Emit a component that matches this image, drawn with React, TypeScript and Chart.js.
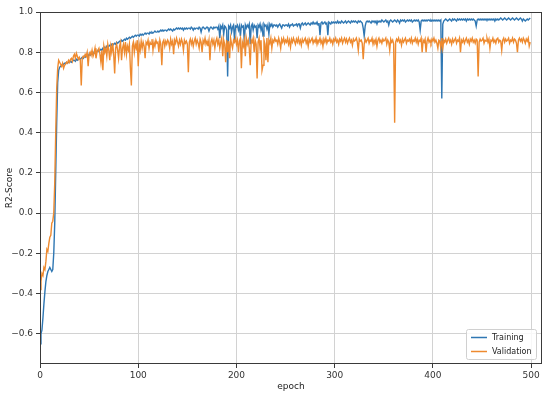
import { useEffect, useRef } from "react";
import { Chart, registerables } from "chart.js";
Chart.register(...registerables);

const training: number[] = [
  -0.65,-0.60,-0.58,-0.52,-0.45,-0.39,-0.34,-0.31,-0.29,-0.28,
  -0.27,-0.28,-0.29,-0.28,-0.20,-0.05,0.20,0.45,0.65,0.71,
  0.725,0.73,0.735,0.74,0.74,0.745,0.745,0.75,0.745,0.75,
  0.75,0.755,0.75,0.755,0.76,0.76,0.755,0.765,0.76,0.765,
  0.77,0.765,0.77,0.775,0.77,0.78,0.775,0.78,0.785,0.78,
  0.79,0.785,0.79,0.795,0.79,0.80,0.795,0.80,0.805,0.81,
  0.805,0.81,0.815,0.81,0.82,0.815,0.825,0.82,0.83,0.825,
  0.83,0.835,0.83,0.84,0.835,0.84,0.845,0.84,0.85,0.845,
  0.85,0.855,0.85,0.86,0.855,0.86,0.865,0.86,0.87,0.865,
  0.87,0.875,0.87,0.875,0.88,0.875,0.88,0.885,0.88,0.885,
  0.885,0.88,0.89,0.885,0.89,0.885,0.89,0.895,0.89,0.895,
  0.895,0.89,0.9,0.895,0.9,0.895,0.9,0.905,0.9,0.9,
  0.905,0.9,0.905,0.91,0.905,0.91,0.905,0.91,0.91,0.905,
  0.91,0.915,0.91,0.915,0.91,0.905,0.915,0.91,0.915,0.92,
  0.915,0.92,0.915,0.92,0.915,0.92,0.91,0.92,0.915,0.92,
  0.915,0.92,0.92,0.915,0.925,0.92,0.91,0.92,0.915,0.92,
  0.92,0.915,0.925,0.92,0.9,0.92,0.925,0.92,0.915,0.92,
  0.925,0.92,0.905,0.92,0.925,0.92,0.915,0.925,0.92,0.925,
  0.925,0.915,0.93,0.87,0.93,0.92,0.935,0.89,0.93,0.925,
  0.91,0.68,0.93,0.92,0.935,0.90,0.925,0.935,0.86,0.93,
  0.925,0.935,0.91,0.93,0.88,0.935,0.925,0.93,0.85,0.935,
  0.92,0.935,0.925,0.94,0.84,0.93,0.94,0.91,0.935,0.925,
  0.93,0.87,0.935,0.925,0.94,0.91,0.93,0.88,0.94,0.93,
  0.935,0.915,0.935,0.89,0.94,0.93,0.94,0.925,0.935,0.935,
  0.93,0.935,0.925,0.935,0.94,0.93,0.92,0.935,0.935,0.93,
  0.935,0.935,0.93,0.94,0.925,0.935,0.935,0.94,0.93,0.935,
  0.935,0.94,0.93,0.94,0.94,0.92,0.94,0.945,0.935,0.94,
  0.945,0.935,0.94,0.945,0.94,0.935,0.945,0.94,0.95,0.94,
  0.945,0.94,0.95,0.935,0.945,0.885,0.945,0.95,0.94,0.945,
  0.95,0.94,0.945,0.885,0.95,0.945,0.94,0.95,0.945,0.95,
  0.945,0.95,0.945,0.955,0.945,0.95,0.945,0.955,0.95,0.945,
  0.95,0.955,0.945,0.95,0.955,0.95,0.945,0.955,0.95,0.955,
  0.95,0.955,0.95,0.945,0.955,0.95,0.955,0.95,0.945,0.92,
  0.88,0.93,0.95,0.955,0.95,0.955,0.95,0.945,0.955,0.95,
  0.955,0.95,0.955,0.94,0.955,0.95,0.955,0.95,0.96,0.955,
  0.95,0.955,0.96,0.95,0.955,0.935,0.955,0.96,0.955,0.95,
  0.955,0.96,0.955,0.95,0.96,0.955,0.945,0.96,0.955,0.96,
  0.955,0.96,0.95,0.955,0.96,0.955,0.96,0.955,0.96,0.95,
  0.955,0.96,0.955,0.96,0.955,0.96,0.95,0.91,0.955,0.96,
  0.955,0.96,0.955,0.96,0.955,0.96,0.96,0.955,0.96,0.955,
  0.96,0.955,0.96,0.955,0.96,0.955,0.96,0.955,0.96,0.57,
  0.94,0.955,0.96,0.965,0.96,0.955,0.96,0.965,0.96,0.955,
  0.965,0.96,0.965,0.96,0.955,0.965,0.96,0.965,0.96,0.965,
  0.96,0.965,0.96,0.965,0.955,0.965,0.96,0.965,0.96,0.965,
  0.96,0.965,0.96,0.955,0.93,0.96,0.965,0.96,0.965,0.96,
  0.965,0.96,0.965,0.96,0.965,0.96,0.965,0.96,0.965,0.96,
  0.965,0.96,0.965,0.955,0.965,0.96,0.965,0.96,0.965,0.97,
  0.965,0.96,0.965,0.97,0.965,0.96,0.965,0.97,0.965,0.96,
  0.965,0.97,0.965,0.96,0.965,0.97,0.965,0.96,0.965,0.97,
  0.965,0.955,0.965,0.96,0.955,0.96,0.965,0.96,0.965,0.97,
];

const validation: number[] = [
  -0.38,-0.34,-0.30,-0.31,-0.27,-0.28,-0.24,-0.18,-0.19,-0.15,
  -0.12,-0.11,-0.05,-0.04,0.00,0.15,0.40,0.62,0.72,0.76,
  0.75,0.74,0.73,0.745,0.72,0.735,0.74,0.75,0.745,0.76,
  0.75,0.765,0.77,0.755,0.78,0.79,0.77,0.795,0.78,0.765,
  0.775,0.76,0.635,0.77,0.78,0.775,0.79,0.78,0.80,0.73,
  0.79,0.80,0.785,0.81,0.78,0.795,0.82,0.77,0.80,0.81,
  0.82,0.79,0.75,0.81,0.71,0.83,0.80,0.82,0.78,0.84,
  0.81,0.76,0.83,0.80,0.845,0.79,0.695,0.82,0.84,0.81,
  0.77,0.83,0.85,0.76,0.82,0.84,0.80,0.85,0.79,0.83,
  0.81,0.84,0.72,0.635,0.83,0.85,0.80,0.84,0.82,0.86,
  0.73,0.84,0.81,0.855,0.82,0.85,0.83,0.77,0.85,0.84,
  0.86,0.82,0.85,0.84,0.865,0.81,0.85,0.83,0.86,0.845,
  0.85,0.80,0.86,0.84,0.735,0.85,0.86,0.83,0.855,0.84,
  0.86,0.85,0.82,0.865,0.84,0.855,0.79,0.86,0.845,0.87,
  0.85,0.83,0.86,0.84,0.865,0.85,0.81,0.86,0.845,0.855,
  0.84,0.70,0.85,0.865,0.84,0.86,0.83,0.855,0.87,0.84,
  0.86,0.845,0.82,0.865,0.85,0.80,0.86,0.845,0.87,0.84,
  0.855,0.83,0.86,0.76,0.85,0.865,0.84,0.86,0.82,0.855,
  0.87,0.84,0.86,0.82,0.85,0.87,0.78,0.86,0.84,0.75,
  0.86,0.80,0.855,0.77,0.87,0.84,0.82,0.86,0.85,0.87,
  0.84,0.86,0.80,0.855,0.87,0.72,0.85,0.83,0.86,0.78,
  0.87,0.84,0.86,0.82,0.735,0.86,0.85,0.87,0.80,0.86,
  0.84,0.67,0.85,0.87,0.82,0.86,0.71,0.735,0.86,0.84,
  0.76,0.87,0.75,0.86,0.845,0.87,0.82,0.86,0.85,0.87,
  0.855,0.86,0.84,0.87,0.85,0.82,0.865,0.85,0.87,0.845,
  0.86,0.85,0.87,0.84,0.86,0.825,0.865,0.85,0.87,0.855,
  0.84,0.865,0.85,0.87,0.845,0.86,0.835,0.865,0.85,0.86,
  0.87,0.845,0.86,0.83,0.865,0.85,0.86,0.87,0.845,0.86,
  0.85,0.87,0.84,0.86,0.855,0.87,0.845,0.86,0.83,0.865,
  0.85,0.87,0.845,0.86,0.855,0.87,0.85,0.86,0.84,0.865,
  0.855,0.87,0.85,0.86,0.84,0.865,0.855,0.87,0.845,0.86,
  0.87,0.85,0.865,0.845,0.86,0.87,0.85,0.86,0.835,0.865,
  0.855,0.86,0.87,0.85,0.81,0.865,0.855,0.86,0.845,0.765,
  0.84,0.865,0.85,0.86,0.87,0.845,0.86,0.855,0.87,0.84,
  0.86,0.85,0.865,0.83,0.86,0.87,0.85,0.86,0.845,0.865,
  0.855,0.86,0.87,0.84,0.86,0.85,0.81,0.865,0.85,0.86,
  0.84,0.45,0.85,0.865,0.855,0.87,0.85,0.86,0.835,0.865,
  0.85,0.86,0.87,0.845,0.86,0.855,0.865,0.85,0.87,0.845,
  0.86,0.855,0.87,0.85,0.865,0.84,0.86,0.855,0.87,0.80,
  0.86,0.85,0.865,0.80,0.855,0.87,0.85,0.86,0.845,0.865,
  0.855,0.87,0.85,0.86,0.845,0.82,0.86,0.855,0.82,0.87,
  0.82,0.86,0.85,0.865,0.845,0.86,0.87,0.85,0.86,0.84,
  0.865,0.85,0.86,0.87,0.845,0.86,0.855,0.87,0.80,0.86,
  0.85,0.865,0.845,0.86,0.87,0.85,0.86,0.84,0.865,0.855,
  0.87,0.85,0.86,0.845,0.865,0.86,0.68,0.85,0.865,0.855,
  0.86,0.87,0.845,0.86,0.855,0.87,0.85,0.865,0.82,0.86,
  0.855,0.87,0.85,0.86,0.845,0.865,0.87,0.85,0.86,0.855,
  0.81,0.86,0.87,0.85,0.865,0.855,0.86,0.87,0.845,0.86,
  0.855,0.87,0.85,0.865,0.86,0.845,0.80,0.86,0.87,0.855,
  0.865,0.85,0.87,0.86,0.845,0.865,0.855,0.87,0.83,0.85,
];

const epochs: number[] = training.map((_, i) => i);
const xTicks = [0, 100, 200, 300, 400, 500];
const yTicks = [-0.6, -0.4, -0.2, 0, 0.2, 0.4, 0.6, 0.8, 1.0];
const seriesLabels = ["Training", "Validation"];
const seriesColors = ["#2f77b3", "#ee8a2f"];
const xTitle = "epoch";
const yTitle = "R2-Score";

const FONT = "'DejaVu Sans', sans-serif";

const framePlugin = {
  id: "frameAndLegend",
  afterDatasetsDraw(chart: any) {
    const { ctx, chartArea: a } = chart;
    ctx.save();
    ctx.strokeStyle = "#3a3a3a";
    ctx.lineWidth = 1;
    ctx.strokeRect(Math.round(a.left) + 0.5, Math.round(a.top) + 0.5,
      Math.round(a.right - a.left) - 1, Math.round(a.bottom - a.top) - 1);

    // legend (inside, lower right)
    const w = 70, h = 30;
    const x0 = Math.round(a.right) - w - 6;
    const y0 = Math.round(a.bottom) - h - 5;
    ctx.fillStyle = "rgba(255,255,255,0.85)";
    ctx.strokeStyle = "#d0d0d0";
    ctx.lineWidth = 1;
    ctx.beginPath();
    (ctx as any).roundRect(x0 + 0.5, y0 + 0.5, w, h, 2);
    ctx.fill();
    ctx.stroke();
    ctx.font = `8px ${FONT}`;
    ctx.textBaseline = "middle";
    chart.data.datasets.forEach((ds: any, i: number) => {
      const yy = y0 + 8.5 + i * 14;
      ctx.strokeStyle = ds.borderColor;
      ctx.lineWidth = 1.5;
      ctx.beginPath();
      ctx.moveTo(x0 + 5, yy);
      ctx.lineTo(x0 + 21, yy);
      ctx.stroke();
      ctx.fillStyle = "#222";
      ctx.fillText(ds.label, x0 + 26, yy);
    });
    ctx.restore();
  },
};

export default function App() {
  const ref = useRef<HTMLCanvasElement>(null);
  useEffect(() => {
    if (!ref.current) return;
    const chart = new Chart(ref.current, {
      type: "line",
      data: {
        datasets: [
          {
            label: seriesLabels[0],
            data: training.map((y, i) => ({ x: epochs[i], y })),
            borderColor: seriesColors[0],
            backgroundColor: seriesColors[0],
            borderWidth: 1.4,
            pointRadius: 0,
            tension: 0,
            order: 2,
          },
          {
            label: seriesLabels[1],
            data: validation.map((y, i) => ({ x: epochs[i], y })),
            borderColor: seriesColors[1],
            backgroundColor: seriesColors[1],
            borderWidth: 1.4,
            pointRadius: 0,
            tension: 0,
            order: 1,
          },
        ],
      },
      options: {
        responsive: false,
        animation: false,
        events: [],
        layout: { padding: { top: 12, right: 8, left: 0, bottom: 0 } },
        plugins: {
          legend: { display: false },
          tooltip: { enabled: false },
          title: { display: false },
        },
        scales: {
          x: {
            type: "linear",
            min: 0,
            max: 511,
            afterBuildTicks: (s: any) => {
              s.ticks = xTicks.map((v) => ({ value: v }));
            },
            afterFit: (s: any) => {
              s.height = 32;
            },
            grid: { color: "#d2d2d2", tickColor: "#3a3a3a", tickLength: 4, lineWidth: 1 },
            border: { display: false },
            ticks: {
              color: "#333",
              font: { family: FONT, size: 9 },
              padding: 2,
              maxRotation: 0,
              callback: (v: any) => String(v),
            },
            title: {
              display: true,
              text: xTitle,
              color: "#222",
              font: { family: FONT, size: 9 },
              padding: { top: 0, bottom: 4 },
            },
          },
          y: {
            type: "linear",
            min: -0.75,
            max: 1.0,
            afterBuildTicks: (s: any) => {
              s.ticks = yTicks.map((v) => ({ value: v }));
            },
            afterFit: (s: any) => {
              s.width = 40;
            },
            grid: { color: "#d2d2d2", tickColor: "#3a3a3a", tickLength: 4, lineWidth: 1 },
            border: { display: false },
            ticks: {
              color: "#333",
              font: { family: FONT, size: 9 },
              padding: 3,
              callback: (v: any) => Number(v).toFixed(1).replace("-", "\u2212"),
            },
            title: {
              display: true,
              text: yTitle,
              color: "#222",
              font: { family: FONT, size: 9 },
              padding: { top: 4, bottom: 0 },
            },
          },
        },
      },
      plugins: [framePlugin],
    });
    return () => chart.destroy();
  }, []);
  return (
    <div style={{ position: "absolute", left: 0, top: 0, width: 550, height: 396, background: "#fff" }}>
      <canvas ref={ref} width={550} height={396} />
    </div>
  );
}
